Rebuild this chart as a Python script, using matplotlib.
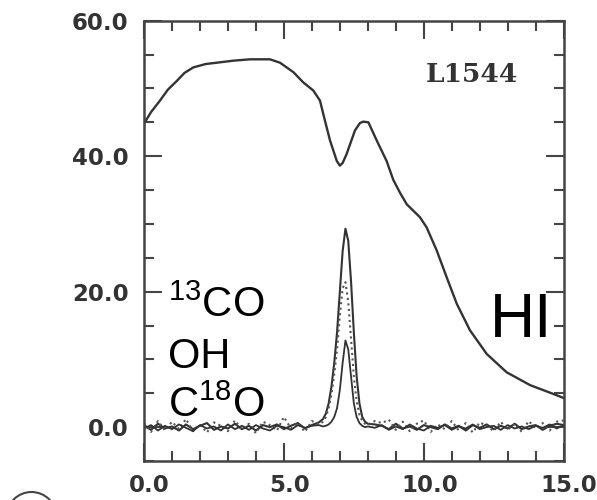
import numpy as np
import matplotlib
matplotlib.use("Agg")
import matplotlib.pyplot as plt
from matplotlib.patches import Ellipse
from matplotlib.ticker import MultipleLocator
from matplotlib.transforms import ScaledTranslation

plt.rcParams["mathtext.fontset"] = "custom"
plt.rcParams["mathtext.rm"] = "Liberation Sans"

# HI emission profile (velocity km/s, brightness)
hi_vel = [0.0, 0.25, 0.57, 0.85, 1.17, 1.45, 1.76, 2.2, 2.6, 3.2, 3.79, 4.5,
          4.86, 5.34, 5.69, 6.05, 6.29, 6.47, 6.65, 6.89, 7.0, 7.1, 7.24,
          7.54, 7.72, 7.84, 8.02, 8.32, 8.67, 8.91, 9.15, 9.39, 9.86, 10.1,
          10.46, 10.82, 11.18, 11.65, 12.25, 12.96, 13.8, 14.63, 15.0]
hi_t = [44.8, 46.5, 48.2, 49.8, 51.1, 52.3, 53.1, 53.6, 53.8, 54.1, 54.3,
        54.3, 53.8, 52.4, 50.9, 49.7, 48.2, 45.2, 42.3, 39.3, 38.6, 39.0,
        40.3, 43.8, 44.9, 45.1, 45.0, 42.3, 39.3, 36.5, 34.6, 32.9, 31.0,
        29.5, 26.1, 22.1, 18.2, 14.3, 10.8, 8.1, 6.2, 4.9, 4.3]

# shared velocity grid for the molecular spectra
spec_vel = np.concatenate([np.arange(0.0, 6.26, 0.25),
                           np.arange(6.4, 8.01, 0.1),
                           np.arange(8.25, 15.01, 0.25)])

co13 = [0.3, -0.4, 0.5, -0.2, 0.1, -0.5, 0.4, -0.3, 0.2, 0.6, -0.4, 0.1, -0.2,
        0.5, -0.3, 0.2, -0.5, 0.3, 0.0, 0.4, -0.3, 0.2, 0.6, -0.2, 0.3, 0.7,
        1.2, 2.0, 3.5, 6.0, 9.5, 14.0, 20.0, 26.0, 29.3, 27.5, 21.5, 14.0,
        7.5, 3.5, 1.5, 0.8, 0.5,
        0.4, 0.2, -0.3, 0.5, -0.2, 0.1, -0.4, 0.3, 0.0, -0.3, 0.4, -0.2, 0.2,
        -0.5, 0.3, -0.1, 0.4, -0.3, 0.2, -0.2, 0.5, -0.3, 0.1, 0.3, -0.4, 0.2,
        0.5, 0.3]
oh = [0.6, -0.7, 0.9, -0.5, 0.8, -0.3, 1.2, -0.6, 0.4, -0.8, 0.7, 0.2, -0.6,
      1.0, -0.4, 0.5, -0.9, 0.8, 0.3, -0.5, 1.5, -0.2, 0.6, -0.7, 0.9, 0.4,
      0.8, 1.5, 2.8, 4.8, 7.8, 11.5, 16.5, 20.5, 21.4, 18.5, 13.0, 7.5, 3.8,
      1.8, 0.9, 0.5, 0.3,
      0.9, 0.6, 1.1, -0.4, 0.8, -0.6, 0.5, 1.0, -0.7, 0.4, -0.3, 0.9, -0.5,
      0.6, -0.8, 0.7, 0.2, -0.6, 0.8, -0.4, 0.5, -0.7, 0.9, -0.2, 0.6, -0.5,
      0.8, 1.0]
c18o = [-0.2, 0.3, -0.5, 0.2, -0.3, 0.4, -0.1, -0.6, 0.3, -0.2, 0.1, -0.5,
        0.4, -0.3, 0.2, -0.4, 0.3, -0.2, -0.5, 0.2, 0.0, -0.4, 0.3, -0.1, 0.2,
        0.3,
        0.1, 0.2, 0.4, 0.8, 1.5, 2.8, 5.5, 9.5, 12.8, 11.5, 7.5, 3.5, 1.5,
        0.6, 0.2, 0.0, 0.1,
        -0.1, 0.3, -0.4, 0.1, -0.3, 0.4, -0.2, -0.5, 0.2, -0.1, 0.3, -0.4,
        0.1, -0.2, 0.4, -0.3, 0.0, 0.2, -0.4, 0.3, -0.2, 0.1, -0.3, 0.2, -0.1,
        0.4, -0.2, 0.3]

xticks = [0.0, 5.0, 10.0, 15.0]
yticks = [0.0, 20.0, 40.0, 60.0]

fig = plt.figure(figsize=(5.97, 5.0), dpi=100)
ax = fig.add_axes([0.2412, 0.078, 0.703, 0.8806])

dark = "#333333"
ax.plot(hi_vel, hi_t, color=dark, lw=1.7)
ax.plot(spec_vel, co13, color=dark, lw=1.5)
ax.plot(spec_vel, oh, color="#555555", lw=1.5, ls=":")
ax.plot(spec_vel, c18o, color=dark, lw=1.3)

ax.set_xlim(0, 15)
ax.set_ylim(-5, 60)
ax.set_xticks(xticks)
ax.set_yticks(yticks)
ax.set_xticklabels(["%.1f" % t for t in xticks])
ax.set_yticklabels(["%.1f" % t for t in yticks])
ax.xaxis.set_minor_locator(MultipleLocator(1))
ax.yaxis.set_minor_locator(MultipleLocator(5))
ax.tick_params(which="both", direction="in", top=True, right=True,
               color="#444444", width=1.5)
ax.tick_params(which="major", length=13)
ax.tick_params(which="minor", length=7)
ax.tick_params(axis="x", pad=9)
ax.tick_params(axis="y", pad=11)
shift = ScaledTranslation(4 / 72, 0, fig.dpi_scale_trans)
for lab in ax.get_xticklabels() + ax.get_yticklabels():
    lab.set_fontweight("bold")
    lab.set_fontsize(16.5)
    lab.set_color(dark)
for lab in ax.get_xticklabels():
    lab.set_transform(lab.get_transform() + shift)
for sp in ax.spines.values():
    sp.set_linewidth(1.8)
    sp.set_color("#444444")

ax.text(472 / 597, 1 - 75 / 500, "L1544", transform=fig.transFigure,
        family="DejaVu Serif", fontweight="bold", fontsize=19, color=dark,
        ha="center", va="center")

sans = "Liberation Sans"
ax.text(168 / 597, 1 - 317 / 500, r"$^{13}$CO", transform=fig.transFigure,
        family=sans, fontsize=30, color="black", ha="left", va="baseline")
ax.text(168 / 597, 1 - 368 / 500, "OH", transform=fig.transFigure,
        family=sans, fontsize=30, color="black", ha="left", va="baseline")
ax.text(168 / 597, 1 - 417 / 500, r"C$^{18}$O", transform=fig.transFigure,
        family=sans, fontsize=30, color="black", ha="left", va="baseline")
ax.text(490 / 597, 1 - 337 / 500, "HI", transform=fig.transFigure,
        family=sans, fontsize=45, color="black", ha="left", va="baseline")

fig.add_artist(Ellipse((31.5 / 597, 1 - 517 / 500), 50 / 597, 50 / 500,
                       transform=fig.transFigure, fill=False,
                       ec="#444444", lw=1.5))

fig.savefig("out.png", dpi=100)
